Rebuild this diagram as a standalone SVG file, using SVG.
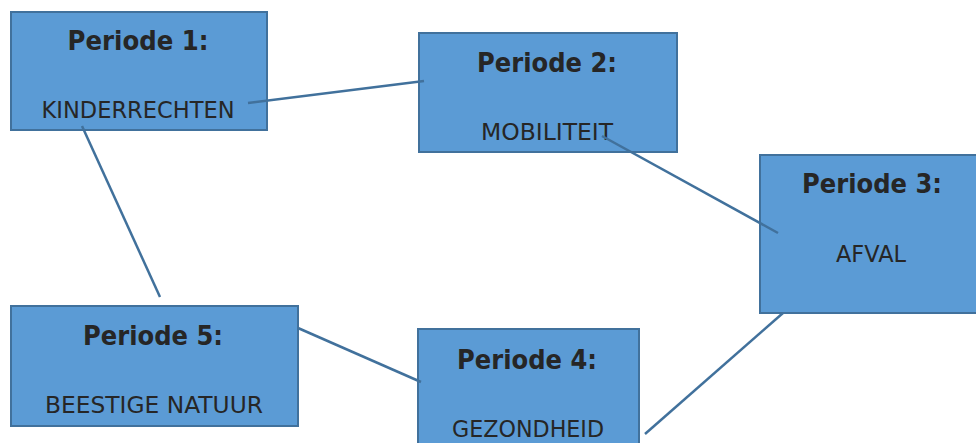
<svg xmlns="http://www.w3.org/2000/svg" width="976" height="443" viewBox="0 0 976 443">
<style>
.box{fill:#5b9bd5;stroke:#41719c;stroke-width:2}
.t{font-family:"DejaVu Sans",sans-serif;font-weight:bold;font-size:26px;fill:#262626;text-anchor:middle}
.b{font-family:"DejaVu Sans",sans-serif;font-size:23px;fill:#262626;text-anchor:middle}
.c{stroke:#41719c;stroke-width:2.5;fill:none}
</style>
<rect width="976" height="443" fill="#fff"/>
<g id="p1">
<rect class="box" x="11" y="12" width="256" height="118"/>
<text class="t" x="138" y="50" textLength="141" lengthAdjust="spacingAndGlyphs">Periode 1:</text>
<text class="b" x="138" y="118" textLength="193" lengthAdjust="spacingAndGlyphs">KINDERRECHTEN</text>
</g>
<g id="p2">
<rect class="box" x="419" y="33" width="258" height="119"/>
<text class="t" x="547" y="72" textLength="140" lengthAdjust="spacingAndGlyphs">Periode 2:</text>
<text class="b" x="547" y="140" textLength="132" lengthAdjust="spacingAndGlyphs">MOBILITEIT</text>
</g>
<g id="p3">
<rect class="box" x="760" y="155" width="220" height="158"/>
<text class="t" x="872" y="193" textLength="140" lengthAdjust="spacingAndGlyphs">Periode 3:</text>
<text class="b" x="871" y="262" textLength="70" lengthAdjust="spacingAndGlyphs">AFVAL</text>
</g>
<g id="p4">
<rect class="box" x="418" y="329" width="221" height="120"/>
<text class="t" x="527" y="369" textLength="140" lengthAdjust="spacingAndGlyphs">Periode 4:</text>
<text class="b" x="528" y="437" textLength="152" lengthAdjust="spacingAndGlyphs">GEZONDHEID</text>
</g>
<g id="p5">
<rect class="box" x="11" y="306" width="287" height="120"/>
<text class="t" x="153" y="345" textLength="140" lengthAdjust="spacingAndGlyphs">Periode 5:</text>
<text class="b" x="154" y="413" textLength="218" lengthAdjust="spacingAndGlyphs">BEESTIGE NATUUR</text>
</g>
<g id="connectors">
<line class="c" x1="248" y1="103" x2="424" y2="81"/>
<line class="c" x1="82" y1="126" x2="160" y2="297"/>
<line class="c" x1="602" y1="136" x2="778" y2="233"/>
<line class="c" x1="298" y1="328" x2="421" y2="382"/>
<line class="c" x1="645" y1="434" x2="783" y2="313"/>
</g>
</svg>
